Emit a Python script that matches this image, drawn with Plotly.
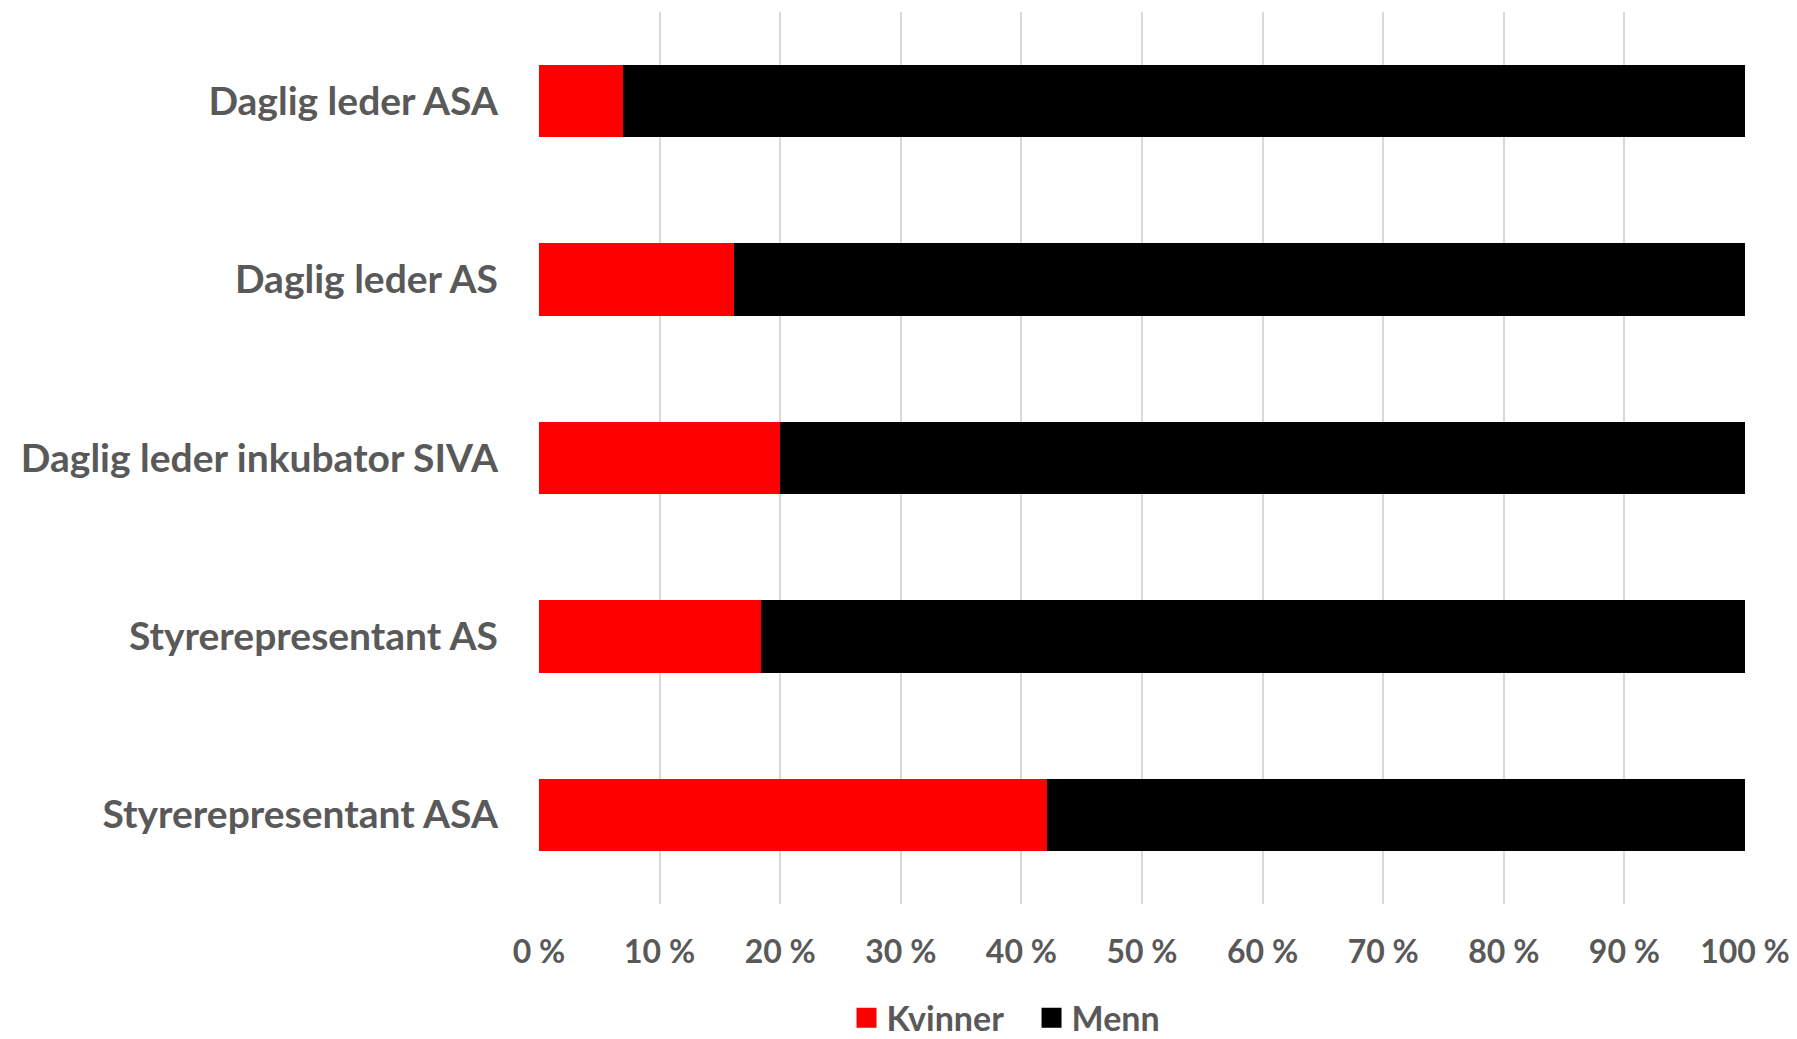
import plotly.graph_objects as go

categories = ["Daglig leder ASA", "Daglig leder AS", "Daglig leder inkubator SIVA",
              "Styrerepresentant AS", "Styrerepresentant ASA"]
kvinner = [7.0, 16.2, 20.0, 18.4, 42.1]
menn = [93.0, 83.8, 80.0, 81.6, 57.9]
x_ticks = [0, 10, 20, 30, 40, 50, 60, 70, 80, 90, 100]
x_tick_labels = ["0 %", "10 %", "20 %", "30 %", "40 %", "50 %", "60 %", "70 %", "80 %", "90 %", "100 %"]

TEXT = "#595959"
FONT = "Lato"

fig = go.Figure()
fig.add_trace(go.Bar(y=categories, x=kvinner, orientation="h", name="Kvinner",
                     marker=dict(color="#FF0000", line=dict(width=0)), showlegend=False))
fig.add_trace(go.Bar(y=categories, x=menn, orientation="h", name="Menn",
                     marker=dict(color="#000000", line=dict(width=0)), showlegend=False))
# legend entries with square markers
fig.add_trace(go.Scatter(x=[None], y=[None], mode="markers", name="Kvinner",
                         marker=dict(symbol="square", size=19, color="#FF0000",
                                     line=dict(width=4, color="#FF0000"))))
fig.add_trace(go.Scatter(x=[None], y=[None], mode="markers", name="Menn",
                         marker=dict(symbol="square", size=19, color="#000000",
                                     line=dict(width=4, color="#000000"))))

fig.update_layout(
    width=1789, height=1031,
    barmode="stack", bargap=0.595,
    plot_bgcolor="white", paper_bgcolor="white",
    margin=dict(l=531, r=52, t=4, b=135, autoexpand=False),
    font=dict(family=FONT, color=TEXT, size=38),
    legend=dict(orientation="h", x=0.255, xanchor="left", y=-0.128, yanchor="middle",
                font=dict(family=FONT, size=34, color=TEXT, weight="bold"),
                itemwidth=30, traceorder="normal",
                entrywidth=140, entrywidthmode="pixels"),
)
fig.update_xaxes(range=[0, 100], tickvals=x_ticks, ticktext=x_tick_labels,
                 showgrid=True, gridcolor="#D9D9D9", gridwidth=1.5,
                 zeroline=False, showline=False, ticks="", automargin=False,
                 tickfont=dict(family=FONT, size=32, color=TEXT, weight="bold"),
                 ticklabelstandoff=26, fixedrange=True)
fig.update_yaxes(autorange="reversed", showgrid=False, zeroline=False, showline=False,
                 ticks="", automargin=False,
                 tickfont=dict(family=FONT, size=39, color=TEXT, weight="bold"),
                 ticklabelstandoff=40, fixedrange=True)

fig.write_html("out.html")
